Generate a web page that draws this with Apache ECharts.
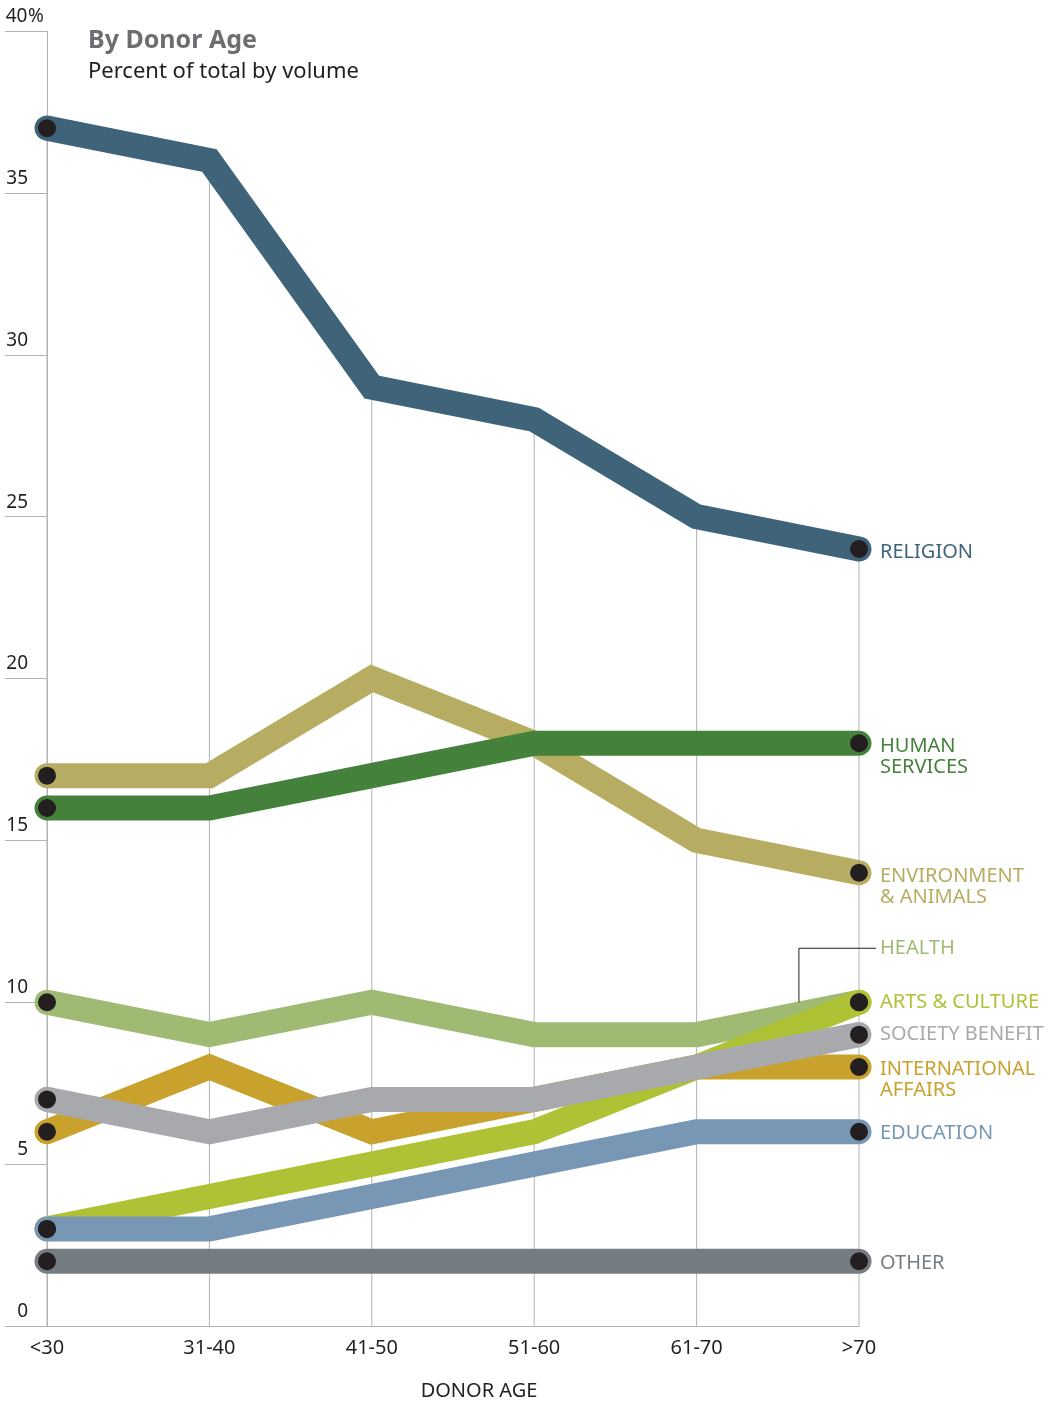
<!DOCTYPE html>
<html>
<head>
<meta charset="utf-8">
<title>By Donor Age</title>
<script src="https://cdn.jsdelivr.net/npm/echarts@6/dist/echarts.min.js"></script>
<style>
  html, body { margin: 0; padding: 0; background: #fff; }
  #donorAge { width: 1057px; height: 1402px; }
</style>
</head>
<body>
<div id="donorAge"></div>
<script>
// categories
var ageGroups = ['<30', '31-40', '41-50', '51-60', '61-70', '>70'];

// percent of total by volume
var religion = [37, 36, 29, 28, 25, 24];
var humanServices = [16, 16, 17, 18, 18, 18];
var environment = [17, 17, 20, 18, 15, 14];
var health = [10, 9, 10, 9, 9, 10];
var arts = [3, 4, 5, 6, 8, 10];
var society = [7, 6, 7, 7, 8, 9];
var international = [6, 8, 6, 7, 8, 8];
var education = [3, 3, 4, 5, 6, 6];
var other = [2, 2, 2, 2, 2, 2];

var yTicks = [0, 5, 10, 15, 20, 25, 30, 35, 40];

var FONT = 'Noto Sans';

// only the first and last point get a dot
function withEndDots(values) {
  return values.map(function (v, i) {
    var end = i === 0 || i === values.length - 1;
    return { value: v, symbol: end ? 'circle' : 'none' };
  });
}

function lineSeries(name, values, color, label, offsetY) {
  return {
    name: name,
    type: 'line',
    data: withEndDots(values),
    showAllSymbol: true,
    symbolSize: 18,
    itemStyle: { color: '#231f20' },
    lineStyle: { color: color, width: 25, cap: 'round', join: 'miter' },
    emphasis: { disabled: true },
    silent: true,
    animation: false,
    endLabel: {
      show: true,
      formatter: label,
      color: color,
      fontFamily: FONT,
      fontSize: 20,
      lineHeight: 21,
      distance: 21,
      offset: [0, offsetY || 0]
    }
  };
}

var chartDom = document.getElementById('donorAge');
var myChart = echarts.init(chartDom);

var option = {
  animation: false,
  title: {
    left: 83,
    top: 23,
    text: 'By Donor Age',
    subtext: 'Percent of total by volume',
    itemGap: 8,
    textStyle: { fontFamily: FONT, fontSize: 25, fontWeight: 'bold', color: '#6d6e71' },
    subtextStyle: { fontFamily: FONT, fontSize: 22, color: '#231f20' }
  },
  grid: { left: 47, right: 198, top: 31, bottom: 76, containLabel: false, outerBoundsMode: 'none' },
  xAxis: {
    type: 'category',
    data: ageGroups,
    boundaryGap: false,
    axisLine: { lineStyle: { color: '#b3b3b3', width: 1 } },
    axisTick: { show: false },
    axisLabel: { fontFamily: FONT, fontSize: 20, color: '#231f20', margin: 12 },
    name: 'DONOR AGE',
    nameLocation: 'middle',
    nameGap: 55,
    nameTextStyle: { fontFamily: FONT, fontSize: 20, color: '#231f20', padding: [0, 0, 0, 52] }
  },
  yAxis: {
    type: 'value',
    min: yTicks[0],
    max: yTicks[yTicks.length - 1],
    interval: 5,
    splitLine: { show: false },
    axisLine: { show: true, lineStyle: { color: '#b3b3b3', width: 1 } },
    axisTick: { show: true, length: 42, lineStyle: { color: '#b3b3b3' } },
    axisLabel: {
      margin: 42,
      align: 'left',
      verticalAlign: 'bottom',
      padding: [0, 0, 5, 0],
      formatter: function (v) {
        return '{n|' + v + '}' + (v === 40 ? '{p|%}' : '');
      },
      rich: {
        n: { fontFamily: FONT, fontSize: 19, color: '#231f20', width: 23, align: 'right' },
        p: { fontFamily: FONT, fontSize: 19, color: '#231f20' }
      }
    }
  },
  series: [
    // thin drop lines from the religion line down to the axis
    {
      type: 'bar',
      data: religion,
      barWidth: 1,
      itemStyle: { color: '#b3b3b3' },
      silent: true,
      z: 1
    },
    lineSeries('Other', other, '#767d82', 'OTHER', 2),
    lineSeries('Health', health, '#9fba72', 'HEALTH', -54),
    lineSeries('Arts & Culture', arts, '#afc236', 'ARTS & CULTURE'),
    lineSeries('Education', education, '#7797b4', 'EDUCATION', 2),
    lineSeries('International Affairs', international, '#c9a12d', 'INTERNATIONAL\nAFFAIRS', 13),
    lineSeries('Society Benefit', society, '#a8a9ad', 'SOCIETY BENEFIT'),
    lineSeries('Environment & Animals', environment, '#b7ad62', 'ENVIRONMENT\n& ANIMALS', 14),
    lineSeries('Human Services', humanServices, '#44823c', 'HUMAN\nSERVICES', 14),
    lineSeries('Religion', religion, '#3f6379', 'RELIGION', 3)
  ]
};

myChart.setOption(option);

// leader line for the HEALTH label, placed from the chart's own scale
var p4 = myChart.convertToPixel({ seriesIndex: 2 }, [4, health[4]]);
var p5 = myChart.convertToPixel({ seriesIndex: 2 }, [5, health[5]]);
var lx = p4[0] + 0.63 * (p5[0] - p4[0]);
var ly = p4[1] + 0.63 * (p5[1] - p4[1]) - 12;
var labelY = p5[1] - 54;
myChart.setOption({
  graphic: [{
    type: 'polyline',
    silent: true,
    z: 100,
    shape: { points: [[lx, ly], [lx, labelY], [p5[0] + 17, labelY]] },
    style: { stroke: '#231f20', lineWidth: 1, fill: null }
  }]
});
</script>
</body>
</html>
